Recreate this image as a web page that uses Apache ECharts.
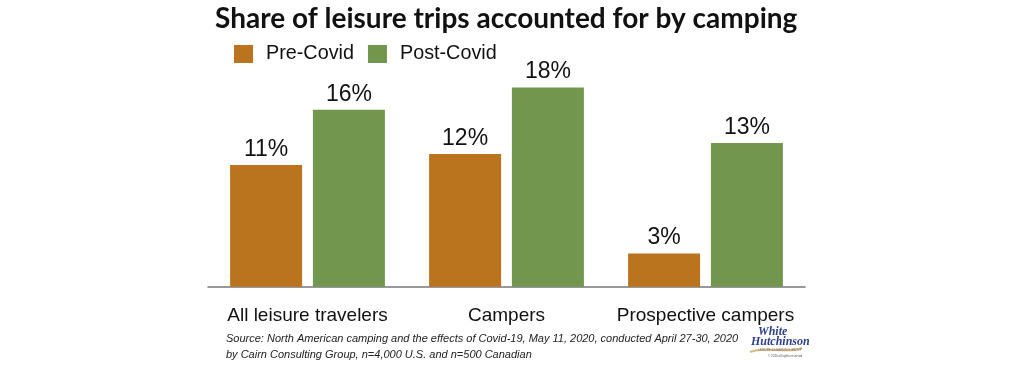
<!DOCTYPE html>
<html><head><meta charset="utf-8">
<script src="https://cdn.jsdelivr.net/npm/echarts@6/dist/echarts.min.js"></script>
<style>html,body{margin:0;padding:0;background:#fff}#c{width:1024px;height:366px}</style>
</head><body><div id="c"></div>
<script>
const categories = ['All leisure travelers', 'Campers', 'Prospective campers'];
const preCovid = [11, 12, 3];
const postCovid = [16, 18, 13];
const seriesNames = ['Pre-Covid', 'Post-Covid'];
const titleText = 'Share of leisure trips accounted for by camping';
const sourceLines = ['Source: North American camping and the effects of Covid-19, May 11, 2020, conducted April 27-30, 2020', 'by Cairn Consulting Group, n=4,000 U.S. and n=500 Canadian'];

const chart = echarts.init(document.getElementById('c'));
const labelCfg = {show: true, position: 'top', distance: 4, formatter: p => p.value + '%', color: '#111', fontSize: 23, fontFamily: 'Liberation Sans, Arial, sans-serif'};
chart.setOption({
  animation: false,
  title: {text: titleText, left: 210, top: 0, textStyle: {fontSize: 28, fontWeight: 'bold', color: '#111', fontFamily: 'Lato, sans-serif'}},
  legend: {data: seriesNames, left: 229, top: 39, icon: 'rect', itemWidth: 19, itemHeight: 18, itemGap: 14,
    textStyle: {fontSize: 19.8, color: '#111', fontFamily: 'Liberation Sans, Arial, sans-serif', padding: [0,0,0,8]}},
  grid: {left: 208, right: 219, top: 65.5, bottom: 79.3},
  xAxis: {type: 'category', data: categories, axisTick: {show: false},
    axisLine: {lineStyle: {color: '#777', width: 1.5}},
    axisLabel: {interval: 0, fontSize: 19, color: '#111', margin: 20, fontFamily: 'Liberation Sans, Arial, sans-serif'}},
  yAxis: {type: 'value', min: 0, max: 20, show: false, splitLine: {show: false}},
  series: [
    {name: seriesNames[0], type: 'bar', data: preCovid, itemStyle: {color: '#bb741e'}, barWidth: 72, barGap: '15%', label: labelCfg},
    {name: seriesNames[1], type: 'bar', data: postCovid, itemStyle: {color: '#72964e'}, barWidth: 72, label: labelCfg}
  ],
  graphic: [
    {type: 'text', left: 226, top: 331, style: {text: sourceLines.join('\n'), font: 'italic 11px "Liberation Sans", Arial, sans-serif', fill: '#222', lineHeight: 16}},
    {type: 'text', left: 758, top: 326, style: {text: 'White', font: 'italic bold 12px "Liberation Serif", serif', fill: '#2c3e8c'}},
    {type: 'text', left: 751, top: 336, style: {text: 'Hutchinson', font: 'italic bold 12px "Liberation Serif", serif', fill: '#2c3e8c'}},
    {type: 'bezierCurve', shape: {x1: 750, y1: 352, x2: 802, y2: 348, cpx1: 765, cpy1: 346, cpx2: 790, cpy2: 354}, style: {stroke: '#d9b98a', lineWidth: 2, fill: null}},
    {type: 'text', left: 758, top: 349, style: {text: 'LEISURE & LEARNING GROUP', font: '3px "Liberation Sans", sans-serif', fill: '#8a7a60'}},
    {type: 'text', left: 768, top: 355, style: {text: '© 2020 all rights reserved', font: '3px "Liberation Sans", sans-serif', fill: '#555'}}
  ]
});
</script></body></html>
